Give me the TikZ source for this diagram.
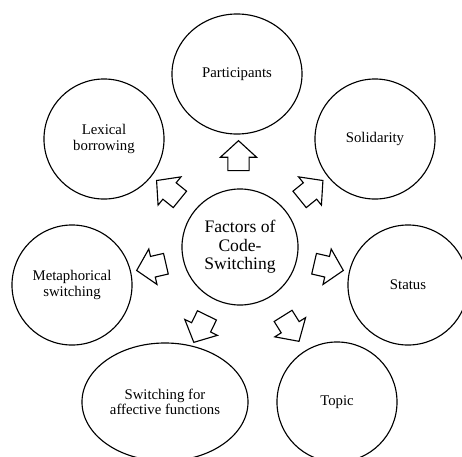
\documentclass[tikz,border=0pt]{standalone}
\usepackage{fontspec}
\setmainfont{Liberation Serif}
\usetikzlibrary{shapes.geometric, shapes.arrows, calc}

\tikzset{
    factor/.style={draw, thick, ellipse, align=center, inner sep=0pt,
        minimum width=3cm, minimum height=3cm, font=\fontsize{10.5}{11}\selectfont},
    hub/.style={factor, minimum width=2.9cm, minimum height=2.9cm,
        font=\fontsize{12.5}{13.2}\selectfont},
    blockarrow/.style={draw, thick, fill=white, single arrow, inner xsep=0pt,
        inner ysep=0.25cm, minimum height=0.75cm,
        single arrow head extend=0.19cm, single arrow tip angle=95}
}

\begin{document}
\begin{tikzpicture}[x=0.025cm, y=-0.025cm]
    \useasboundingbox (0,0) rectangle (462,456);
    \clip (0,0) rectangle (462,456);

    % Centre
    \node[hub] (fac) at (240,247) {Factors of\\Code-\\Switching};

    % Factors around it
    \node[factor, minimum width=3.25cm] (part) at (237,74) {Participants};
    \node[factor] (lex) at (104,139) {Lexical\\borrowing};
    \node[factor] (sol) at (375,139) {Solidarity};
    \node[factor] (meta) at (72,285) {Metaphorical\\switching};
    \node[factor] (stat) at (408,285) {Status};
    \node[factor, minimum width=4.15cm, minimum height=2.95cm] (aff) at (165,402) {Switching for\\affective functions};
    \node[factor] (top) at (337,402) {Topic};

    % Block arrows pointing outwards
    \foreach \n/\a in {part/90, lex/141, sol/39, meta/193, stat/-13, aff/244, top/-58}
        \node[blockarrow, rotate=\a] (arr-\n) at ($(fac)!0.5!(\n)$) {};
\end{tikzpicture}
\end{document}
